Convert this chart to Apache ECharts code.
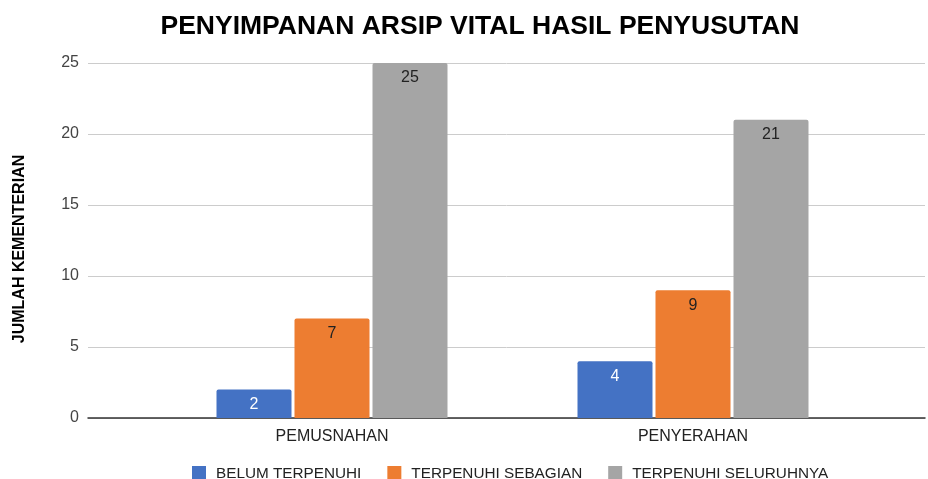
<!DOCTYPE html>
<html>
<head>
<meta charset="utf-8">
<script src="https://cdn.jsdelivr.net/npm/echarts@6/dist/echarts.min.js"></script>
<style>
  html, body { margin: 0; padding: 0; background: #fff; }
  #main { width: 928px; height: 479px; }
</style>
</head>
<body>
<div id="main"></div>
<script>
// data
var categories = ['PEMUSNAHAN', 'PENYERAHAN'];
var seriesNames = ['BELUM TERPENUHI', 'TERPENUHI SEBAGIAN', 'TERPENUHI SELURUHNYA'];
var belum = [2, 4];
var sebagian = [7, 9];
var seluruhnya = [25, 21];
var colors = ['#4472c4', '#ed7d31', '#a5a5a5'];

var FONT = 'Liberation Sans, Arial, sans-serif';
var chart = echarts.init(document.getElementById('main'), null, { renderer: 'canvas' });

function makeSeries(name, data, color, labelColor) {
  return {
    name: name,
    type: 'bar',
    xAxisIndex: 1,
    yAxisIndex: 1,
    data: data,
    barWidth: 75,
    barGap: '4%',
    itemStyle: { color: color, borderRadius: [2, 2, 0, 0] },
    label: {
      show: true,
      position: 'insideTop',
      distance: 7,
      color: labelColor,
      fontSize: 16,
      fontFamily: FONT
    }
  };
}

var option = {
  animation: false,
  title: {
    text: 'PENYIMPANAN ARSIP VITAL HASIL PENYUSUTAN',
    left: 475,
    textAlign: 'center',
    top: 8,
    textStyle: {
      fontFamily: FONT,
      fontWeight: 'bold',
      fontSize: 26.5,
      color: '#000'
    }
  },
  legend: {
    top: 461,
    left: 187,
    itemWidth: 14,
    itemHeight: 15,
    itemGap: 26,
    icon: 'rect',
    textStyle: {
      fontFamily: FONT,
      fontSize: 15.3,
      color: '#222',
      padding: [0, 0, 0, 5]
    },
    data: seriesNames
  },
  grid: [
    { left: 88, right: 3, top: 63, bottom: 61 },
    { left: 151.5, right: 54.5, top: 63, bottom: 61 }
  ],
  xAxis: [
    {
      gridIndex: 0,
      type: 'category',
      data: [''],
      axisLine: { show: true, lineStyle: { color: '#333', width: 1.5 } },
      axisTick: { show: false },
      axisLabel: { show: false }
    },
    {
      gridIndex: 1,
      type: 'category',
      data: categories,
      axisLine: { show: false },
      axisTick: { show: false },
      axisLabel: {
        margin: 11,
        fontFamily: FONT,
        fontSize: 16,
        color: '#222'
      }
    }
  ],
  yAxis: [
    {
      gridIndex: 0,
      type: 'value',
      min: 0,
      max: 25,
      interval: 5,
      name: 'JUMLAH KEMENTERIAN',
      nameLocation: 'middle',
      nameGap: 60,
      nameTextStyle: {
        fontFamily: FONT,
        fontWeight: 'bold',
        fontSize: 16,
        color: '#000',
        padding: [0, 17, 0, 0]
      },
      axisLine: { show: false },
      axisTick: { show: false },
      axisLabel: {
        margin: 9,
        fontFamily: FONT,
        fontSize: 16,
        color: '#444'
      },
      splitLine: { lineStyle: { color: '#cccccc', width: 1 } }
    },
    {
      gridIndex: 1,
      type: 'value',
      min: 0,
      max: 25,
      interval: 5,
      show: false,
      splitLine: { show: false }
    }
  ],
  series: [
    makeSeries(seriesNames[0], belum, colors[0], '#ffffff'),
    makeSeries(seriesNames[1], sebagian, colors[1], '#222222'),
    makeSeries(seriesNames[2], seluruhnya, colors[2], '#222222')
  ]
};

chart.setOption(option);
</script>
</body>
</html>
